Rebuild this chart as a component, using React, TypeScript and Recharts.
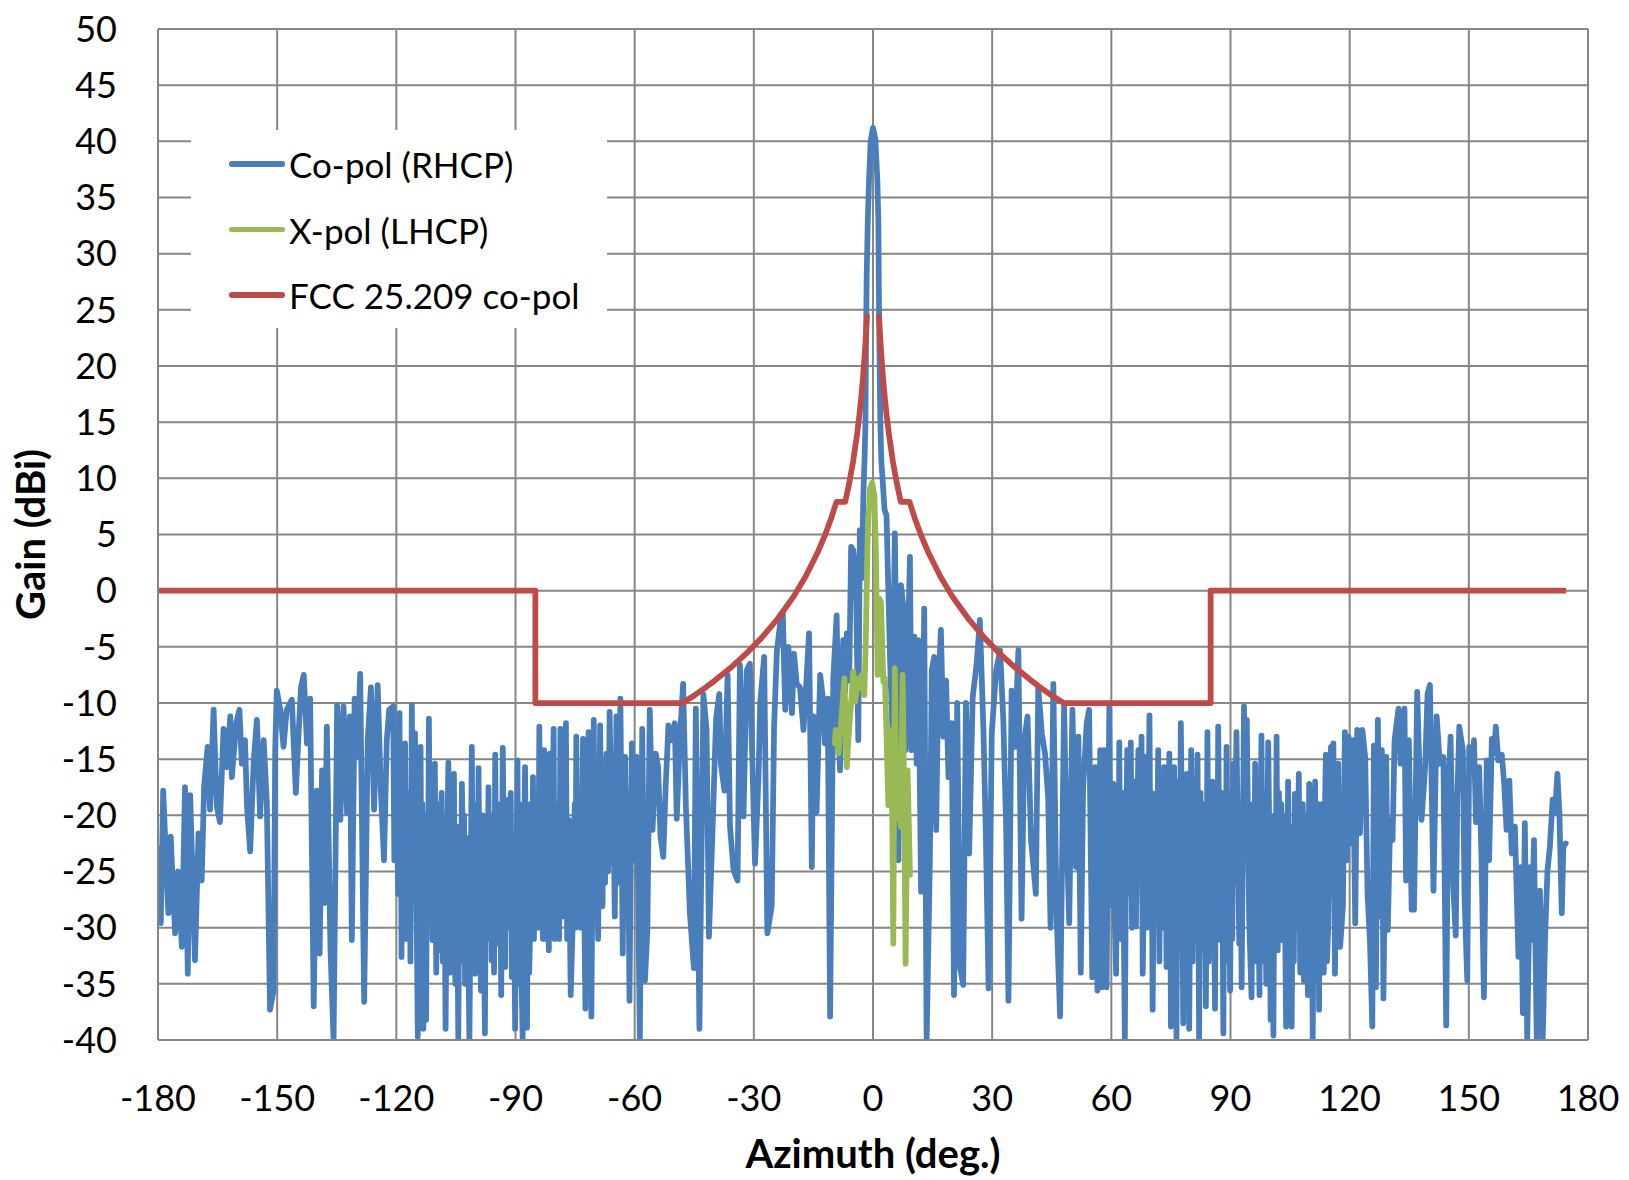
import React from "react";
import { CartesianGrid, Line, LineChart, XAxis, YAxis } from "recharts";

// azimuth ticks (deg) and gain ticks (dBi)
const xTicks = [-180, -150, -120, -90, -60, -30, 0, 30, 60, 90, 120, 150, 180];
const yTicks = [-40, -35, -30, -25, -20, -15, -10, -5, 0, 5, 10, 15, 20, 25, 30, 35, 40, 45, 50];

// [azimuth, gain] (peaks and nulls)
const coPol: [number, number][] = [
  [-180.0, -23], [-179.3, -29.6], [-178.7, -17.8], [-177.4, -28.7], [-176.8, -21.9], [-175.7, -30.5],
  [-174.9, -25], [-174.0, -31.7], [-173.2, -17.5], [-172.5, -34.1], [-171.9, -18.2], [-170.7, -32.9],
  [-169.8, -21.6], [-169.0, -25.8], [-168.4, -17.5], [-167.5, -13.9], [-166.9, -19.5], [-166.0, -10.6],
  [-165.2, -19.2], [-164.4, -20.6], [-163.5, -12.3], [-162.7, -15.7], [-161.8, -11.2], [-161.4, -16.6],
  [-160.3, -11.8], [-159.5, -10.6], [-158.9, -15.4], [-158.1, -13.3], [-157.6, -19.2], [-156.8, -23.2],
  [-155.9, -15.1], [-155.1, -11.5], [-154.3, -20.1], [-153.4, -13.3], [-152.6, -18.9], [-151.8, -37.3],
  [-150.9, -35.6], [-150.5, -14.2], [-150.1, -8.9], [-149.2, -10.6], [-148.4, -13.9], [-147.6, -10.6],
  [-146.3, -9.7], [-145.3, -18], [-144.6, -12.7], [-144.0, -8.6], [-143.3, -7.5], [-142.5, -13.6],
  [-141.7, -9.6], [-140.8, -37], [-140.0, -17.8], [-139.3, -32.3], [-138.7, -16], [-138.1, -27.8],
  [-137.5, -12.1], [-136.6, -31.7], [-135.8, -40], [-134.9, -10.2], [-134.1, -20.4], [-133.3, -10.3],
  [-132.4, -19.8], [-131.7, -11.2], [-131.2, -31.1], [-130.5, -9.6], [-129.8, -14.8], [-129.1, -7.4],
  [-128.1, -36.6], [-127.2, -13.3], [-126.4, -8.6], [-125.6, -19.5], [-124.7, -8.4], [-123.9, -17.8],
  [-123.1, -24], [-122.4, -13.3], [-121.8, -10.6],
  [-120.8, -10.3], [-119.9, -18], [-119.2, -10.9], [-118.7, -32.6], [-117.8, -13.6], [-117.0, -28.4],
  [-116.1, -10.2], [-115.7, -27], [-115.3, -12.7], [-114.6, -39.7], [-113.9, -13.9], [-113.2, -39],
  [-112.9, -22], [-112.5, -38.2],
  [-111.8, -11.4], [-110.9, -31.1], [-110.3, -15.4], [-109.2, -32], [-108.6, -18], [-107.6, -39],
  [-106.9, -15.3], [-106.1, -24.6], [-105.5, -16.3], [-104.4, -40], [-103.5, -17.2], [-102.7, -35],
  [-101.6, -40], [-101.0, -13.9], [-100.2, -34.1], [-99.3, -15.8], [-98.7, -35.6], [-98.2, -20],
  [-97.7, -39.4],
  [-96.8, -17.5], [-96.0, -32.9], [-95.1, -14.6], [-94.3, -31.4], [-93.2, -14], [-92.6, -33.5],
  [-91.8, -18.6], [-90.9, -34.4], [-90.5, -22], [-90.1, -39], [-89.5, -15.1], [-88.8, -28.1], [-88.2, -40],
  [-87.6, -15.7], [-87.1, -38.9], [-86.3, -29.9], [-85.6, -16.6], [-84.9, -27.8], [-84.0, -12.1],
  [-83.4, -24.1], [-82.8, -14.2], [-82.1, -29], [-81.4, -14.5], [-80.9, -26], [-80.4, -12.3], [-79.6, -28.1],
  [-78.7, -12.3], [-77.9, -29], [-77.3, -11.8], [-76.6, -20.4], [-76.1, -36], [-75.4, -27.2],
  [-74.7, -13], [-73.9, -24], [-73.0, -13.2], [-72.4, -37.2], [-71.6, -12.6], [-70.9, -37.9],
  [-70.3, -11.5], [-69.5, -23.4], [-68.7, -12], [-68.1, -28.1], [-67.1, -14.5], [-66.7, -25],
  [-66.3, -10.8], [-65.7, -24.3], [-64.6, -11.2], [-64.1, -26], [-63.6, -9.6], [-63.0, -32.3],
  [-62.4, -14.8], [-61.3, -36.5], [-60.7, -13.6],
  [-60.2, -24], [-59.5, -14.8], [-58.7, -40], [-58.1, -12.3], [-57.4, -34.7], [-56.8, -30.2],
  [-56.2, -10.6], [-55.5, -21.3], [-54.7, -14.5], [-54.1, -15.7], [-53.5, -21.9], [-52.8, -23.7],
  [-52.2, -17.5], [-51.5, -12], [-50.7, -13.3], [-49.9, -11.8], [-49.4, -20.3], [-48.6, -13],
  [-47.8, -8.3], [-47.1, -19.2], [-46.1, -28.7], [-45.1, -33.6], [-44.6, -10.5], [-43.7, -39],
  [-42.7, -9.2], [-41.9, -12.4], [-41.3, -30.8], [-40.4, -21.3], [-39.5, -11.4], [-38.7, -9.2],
  [-38.3, -15.4], [-37.4, -17.8], [-36.6, -7.5], [-36.0, -21], [-35.1, -24.9], [-34.1, -25.8],
  [-33.5, -6.6], [-32.6, -20.1], [-31.8, -7.1], [-31.0, -6.5], [-29.7, -24.3], [-28.8, -16.4],
  [-28.4, -10], [-27.4, -5.9], [-26.6, -30.5], [-25.5, -28.1], [-24.9, -12.1], [-24.2, -5.4],
  [-23.4, -3], [-22.7, -2], [-22.1, -10.6], [-21.3, -5], [-20.4, -10.9], [-19.9, -5.6],
  [-19.2, -8.3], [-18.4, -8.6], [-17.5, -12.4], [-16.7, -7.7], [-16.1, -3.8], [-15.4, -24.6],
  [-15.0, -11.2], [-14.6, -19.8], [-14.2, -19.7], [-13.3, -7.5], [-12.5, -9.9], [-12.1, -13.6],
  [-11.4, -9.6], [-10.8, -37.9], [-10.0, -7.8], [-9.15, -2.2], [-8.7, -12], [-8.3, -16],
  [-7.5, -4.4], [-7.0, -9], [-6.6, -3.8], [-6.0, -8], [-5.5, 3.9], [-4.95, 3.6],
  [-4.3, 1.1], [-3.7, -13.3], [-3.3, 5.4], [-2.85, 1.1], [-2.4, 8.8], [-2.1, 12],
  [-1.9, 15], [-1.75, 22], [-1.6, 28], [-1.3, 33], [-1.0, 36.5], [-0.6, 40],
  [0, 41.2], [0.6, 40.2], [1.1, 36.5], [1.35, 33], [1.45, 28], [1.6, 22],
  [1.85, 15], [2.1, 11.5], [2.4, 10], [2.9, 7.2], [3.4, 6.7], [4.3, -6.2],
  [4.86, -12.1], [5.5, 5.1], [5.95, -8.1], [6.4, -24], [7.05, 0.5], [7.6, -1.3],
  [8.2, -14.2], [9.3, 3], [9.7, -14.2], [10.4, -4.1], [11.0, -15.4], [11.4, -4.4],
  [12.1, -26.8], [12.9, -1.6],
  [13.5, -40], [14.3, -24.3], [14.8, -7.1], [15.4, -5.9], [15.9, -21.3], [16.4, -8.9],
  [17.1, -3.5], [17.7, -13], [18.4, -8], [19.0, -16.6], [19.8, -11.8], [20.4, -36],
  [21.2, -10], [21.9, -33.5], [22.7, -35.1], [23.4, -10], [24.2, -23.4], [25.1, -9.5],
  [26.1, -6.5], [26.9, -2.6], [27.8, -12.4], [28.4, -21.6], [29.1, -35.4], [29.9, -12.7],
  [31.0, -7.1], [32.0, -5.3], [32.8, -11.5], [33.5, -20.7], [34.1, -36.5], [34.9, -8.9],
  [35.7, -13.9], [36.6, -5.3], [37.4, -29.2], [38.1, -13.3], [38.9, -11.2], [39.8, -22.2],
  [41.0, -27], [41.6, -8.6], [42.5, -12.7], [43.3, -14.5], [44.1, -18.4], [44.7, -30],
  [45.4, -8.3], [46.2, -28.7], [47.1, -37.9], [48.1, -10.3], [48.7, -21], [49.4, -29.6],
  [50.2, -10.6], [51.1, -24.6], [51.7, -13], [52.3, -34], [52.9, -17.5], [53.8, -11.8],
  [54.4, -10.6], [55.2, -34.4], [55.9, -15.7], [56.5, -35.6],
  [57.2, -14.2], [57.6, -35.3], [58.2, -14.2], [58.8, -35.3], [59.5, -10.3], [60.5, -17.2],
  [61.2, -34.1], [62.0, -13.5], [62.6, -26.1], [63.4, -40], [64.0, -14.2], [64.4, -27], [64.9, -13.5],
  [65.5, -22.8], [66.2, -29.9], [66.8, -14.2], [67.3, -25], [67.6, -13], [67.9, -34.1], [68.7, -14.8],
  [69.2, -24], [69.6, -11.1], [70.4, -37.3], [71.0, -18.1], [71.4, -27], [71.8, -14.2], [72.7, -28.7], [73.3, -15.7],
  [73.9, -33.5], [74.6, -14.5], [75.0, -38.8], [75.8, -15.7], [76.4, -40], [77.5, -11.8],
  [78.1, -38.5], [79.0, -16.3], [79.6, -39], [80.1, -14.2], [81.1, -31.1], [81.7, -14.6],
  [82.1, -40], [83.2, -25.2], [83.8, -37], [84.2, -12.6], [85.1, -29.9], [86.1, -37.2],
  [86.9, -12.1], [87.5, -31.1], [88.2, -39.4], [89.0, -13.9], [89.9, -35.6], [90.7, -15.4],
  [91.1, -26], [91.5, -12.6], [92.2, -31.4], [92.5, -20], [92.8, -35.3], [93.4, -10.3], [93.8, -24],
  [94.1, -11.5], [94.7, -29.3],
  [95.3, -36.2], [96.2, -15.4], [97.0, -27.5], [97.8, -12.9], [98.7, -23.4], [99.5, -13.5],
  [100.1, -38.2], [100.5, -22], [100.8, -39.6], [101.6, -13], [102.5, -25.8], [103.1, -31.1], [104.0, -38.8],
  [104.5, -17], [105.4, -38.8], [106.2, -18.1], [106.7, -30], [107.2, -16.3], [107.9, -29.3], [108.5, -34.7],
  [109.2, -31.1], [109.8, -17.2], [110.7, -40], [111.3, -17], [112.3, -37.3], [113.2, -24],
  [114.0, -14.6], [114.6, -29.9], [115.3, -13.9], [115.6, -27], [115.9, -13.6], [116.3, -34.1], [117.1, -15.4],
  [117.6, -31.7], [118.3, -28.1], [118.8, -12.6], [119.3, -24], [119.7, -13], [120.3, -22.5], [120.8, -13.3],
  [121.4, -29.6], [121.9, -12.4], [122.6, -21.6], [123.2, -12.4], [123.9, -14.8], [124.5, -27],
  [125.1, -31.1], [125.7, -38.8], [126.1, -13.8], [126.6, -35.3], [127.1, -11.5], [127.6, -29],
  [128.1, -14.2], [128.5, -36.3], [129.2, -14.8], [129.6, -30.2], [130.2, -20.4], [130.8, -22.2],
  [131.3, -13.3], [132.3, -10.5], [132.8, -15.4], [133.8, -10.5], [134.2, -25.8], [134.9, -13.3],
  [135.6, -28.4], [136.2, -28.4], [137.0, -9], [137.7, -17.5], [138.1, -20.4], [139.0, -15.7],
  [139.6, -9.2], [140.2, -8.4], [141.1, -26.7], [141.9, -11.2], [142.7, -15.4], [143.6, -14.8],
  [144.3, -38.7], [144.8, -18.1], [145.4, -13], [146.1, -26.4], [146.7, -30.7], [147.1, -18.4],
  [147.6, -12.1], [148.5, -14.2], [148.9, -27], [149.6, -34.7], [150.1, -13.9], [150.8, -16],
  [151.3, -13.3], [151.8, -20.6], [152.6, -15.7], [153.2, -24], [153.8, -36.2], [154.5, -15.1],
  [155.1, -24], [155.8, -13.2], [156.3, -14.5], [156.8, -12.1], [157.4, -15.1], [158.3, -14.6],
  [158.9, -17.2], [159.5, -21.3], [160.2, -16.9], [160.8, -23.4], [161.6, -21], [162.5, -32.6],
  [163.1, -24.6], [163.6, -37.6], [164.1, -20.7], [164.7, -40], [165.4, -24.6], [165.8, -31.1],
  [166.4, -22.2], [167.1, -40], [167.9, -26.7], [168.6, -40], [169.2, -30.8], [169.8, -24.9],
  [170.4, -22.8], [171.1, -18.6], [171.7, -19.8], [172.3, -16.3], [172.8, -19.8], [173.4, -28.7],
  [173.8, -22.8], [174.4, -22.5],
];

// finer ripple read inside the dense bands on the west side (-121..-60 deg)
const coPolRippleWest: [number, number][] = [
  [-120.5, -24], [-120.2, -14], [-119.55, -27], [-119.0, -26], [-118.85, -19], [-118.4, -19],
  [-118.1, -30], [-117.55, -31], [-117.3, -18], [-116.75, -19], [-116.45, -33], [-114.35, -21],
  [-114.15, -31], [-113.65, -30], [-113.45, -19], [-112.25, -20], [-112.05, -29], [-111.5, -27],
  [-111.2, -17], [-110.6, -22], [-109.95, -34], [-109.6, -19], [-108.9, -23], [-108.3, -33],
  [-107.95, -21], [-107.25, -24], [-106.5, -34], [-105.15, -35], [-104.8, -21], [-104.1, -23],
  [-103.8, -33], [-103.2, -24], [-102.95, -20], [-102.3, -22], [-101.95, -30], [-100.75, -26],
  [-100.5, -19], [-99.9, -22], [-99.6, -33], [-99.0, -29], [-97.4, -21], [-97.1, -31],
  [-96.55, -30], [-96.25, -20], [-95.7, -21], [-95.4, -34], [-94.85, -28], [-94.55, -19],
  [-93.95, -19], [-93.6, -36], [-92.9, -24], [-92.35, -20], [-92.05, -30], [-91.5, -29],
  [-91.2, -18], [-89.25, -35], [-89.0, -19], [-87.9, -26], [-87.35, -24], [-86.8, -19],
  [-86.55, -34], [-86.0, -19], [-85.8, -27], [-85.35, -31], [-85.1, -19], [-84.6, -18],
  [-84.3, -30], [-83.7, -29], [-83.1, -31], [-82.55, -31], [-82.3, -20], [-81.85, -19],
  [-81.6, -32], [-80.15, -31], [-79.9, -19], [-79.3, -19], [-79.0, -31], [-78.45, -26],
  [-78.15, -19], [-77.6, -21], [-77.0, -31], [-75.1, -19], [-74.9, -30], [-74.45, -29],
  [-74.15, -18], [-73.6, -30], [-73.3, -21], [-72.7, -28], [-72.1, -20], [-71.85, -30],
  [-71.35, -27], [-71.1, -19], [-70.6, -24], [-70.0, -29], [-69.75, -17], [-69.2, -31],
  [-68.95, -21], [-68.4, -21], [-67.8, -17], [-67.45, -26], [-65.4, -18], [-65.0, -29],
  [-62.7, -21], [-62.05, -27], [-61.7, -18], [-61.0, -24],
];

// finer ripple read inside the dense bands on the east side (59..117 deg)
const coPolRippleEast: [number, number][] = [
  [59.85, -28], [60.2, -19], [60.85, -29], [61.5, -20], [61.75, -31], [62.3, -31],
  [62.9, -18], [63.15, -30], [63.7, -23], [65.2, -30], [65.8, -17], [66.0, -25],
  [66.5, -21], [68.95, -30], [69.85, -25], [70.1, -18], [70.7, -25], [72.1, -33],
  [72.4, -19], [73.0, -30], [73.6, -21], [74.2, -20], [74.4, -29], [74.8, -24],
  [75.3, -20], [75.55, -30], [76.1, -26], [76.75, -17], [77.1, -32], [77.8, -22],
  [78.4, -18], [78.7, -33], [79.3, -22], [80.45, -33], [80.8, -19], [81.4, -22],
  [82.45, -18], [82.85, -32], [83.5, -19], [84.5, -33], [84.8, -18], [85.45, -17],
  [85.8, -26], [86.4, -20], [86.65, -31], [87.2, -24], [87.8, -18], [88.5, -20],
  [88.75, -33], [89.3, -30], [89.6, -18], [90.2, -21], [90.45, -31], [95.6, -19],
  [95.9, -32], [96.5, -33], [96.75, -19], [97.3, -36], [97.55, -20], [98.1, -33],
  [98.4, -18], [99.0, -35], [99.25, -21], [99.8, -23], [101.1, -20], [101.35, -30],
  [101.9, -32], [102.2, -18], [102.8, -19], [103.4, -20], [103.7, -28], [104.8, -28],
  [105.1, -21], [105.7, -22], [105.95, -33], [107.55, -34], [108.2, -19], [108.85, -20],
  [109.5, -36], [110.1, -28], [110.4, -19], [111.0, -23], [111.65, -34], [112.0, -20],
  [112.6, -19], [112.9, -33], [113.5, -34], [113.75, -20], [114.3, -33], [114.95, -20],
  [116.7, -22],
];

const xPol: [number, number][] = [
  [-9.6, -13.6], [-9.4, -12.4], [-8.7, -14.5], [-8.1, -12.1], [-7.2, -7.8], [-6.6, -15.7],
  [-6.2, -13.3], [-5.5, -9.9], [-4.95, -7.2], [-4.5, -9.9], [-3.86, -7.8], [-3.27, -8.7],
  [-2.85, -7.5], [-2.2, -9.3], [-1.85, -5], [-1.35, 4.8], [-0.76, 9.1], [-0.2, 9.6],
  [0.33, 8.5], [0.75, 3.3], [1.17, -7.5], [1.59, -0.7], [2.0, -1], [2.6, -8.1],
  [3.0, -7.8], [3.4, -12.7], [3.86, -19.1], [4.3, -12.4], [4.86, -20.3], [5.1, -31.4],
  [5.5, -6.9], [5.95, -20.3], [6.5, -17.3], [7.0, -21], [7.46, -7.5], [7.9, -19.7],
  [8.2, -33.2], [8.7, -16], [9.06, -21.3], [9.3, -25.3],
];

// FCC 25.209 co-pol mask; null breaks the line across the main beam
const fccMask: [number, number | null][] = [
  [-180, 0], [-85, 0], [-85, -10], [-48, -10], [-45, -9.33], [-42, -8.58], [-40, -8.05],
  [-36, -6.91], [-32, -5.63], [-28, -4.18], [-24, -2.5], [-20, -0.53], [-17, 1.24], [-14, 3.35],
  [-12, 5.02], [-10.5, 6.47], [-9.2, 7.9], [-7, 7.9], [-6, 9.55], [-5, 11.53], [-4, 13.95],
  [-3.5, 15.4], [-3, 17.07], [-2.5, 19.05], [-2, 21.47], [-1.75, 22.92], [-1.5, 24.6],
  [0, null],
  [1.5, 24.6], [1.75, 22.92], [2, 21.47], [2.5, 19.05], [3, 17.07], [3.5, 15.4], [4, 13.95],
  [5, 11.53], [6, 9.55], [7, 7.9], [9.2, 7.9], [10.5, 6.47], [12, 5.02], [14, 3.35], [17, 1.24],
  [20, -0.53], [24, -2.5], [28, -4.18], [32, -5.63], [36, -6.91], [40, -8.05], [42, -8.58],
  [45, -9.33], [48, -10], [85, -10], [85, 0], [174.5, 0],
];

const legendItems = [
  { name: "Co-pol (RHCP)", color: "#4A7EBB" },
  { name: "X-pol (LHCP)", color: "#98B954" },
  { name: "FCC 25.209 co-pol", color: "#BE4B48" },
];

const toRows = (pts: [number, number | null][]) => pts.map(([az, gain]) => ({ az, gain }));

const coPolRows = toRows(
  [...coPol, ...coPolRippleWest, ...coPolRippleEast].sort((a, b) => a[0] - b[0])
);

const gridColor = "#868686";
const font = "Lato, 'Open Sans', sans-serif";
const seriesWidth = 5.75;

export default function App() {
  return (
    <div style={{ position: "absolute", left: 0, top: 0, width: 1629, height: 1180, background: "#fff" }}>
      <LineChart width={1629} height={1180} margin={{ top: 29, right: 41, bottom: 0, left: 0 }}>
        <CartesianGrid stroke={gridColor} strokeWidth={2} />
        <XAxis
          type="number"
          dataKey="az"
          domain={[-180, 180]}
          ticks={xTicks}
          allowDataOverflow
          height={140}
          tickLine={false}
          tickSize={0}
          tickMargin={45}
          axisLine={{ stroke: gridColor, strokeWidth: 2 }}
          tick={{ fontSize: 36, fill: "#000", fontFamily: font }}
          label={{
            value: "Azimuth (deg.)",
            position: "insideBottom",
            offset: 12,
            fontSize: 40,
            fontWeight: 700,
            fontFamily: font,
            fill: "#000",
          }}
        />
        <YAxis
          type="number"
          domain={[-40, 50]}
          ticks={yTicks}
          allowDataOverflow
          width={158}
          tickLine={false}
          tickSize={0}
          tickMargin={41}
          axisLine={{ stroke: gridColor, strokeWidth: 2 }}
          tick={{ fontSize: 36, fill: "#000", fontFamily: font }}
          label={{
            value: "Gain (dBi)",
            angle: -90,
            position: "insideLeft",
            offset: 31,
            fontSize: 40,
            fontWeight: 700,
            fontFamily: font,
            fill: "#000",
            style: { textAnchor: "middle" },
          }}
        />
        <Line
          data={coPolRows}
          dataKey="gain"
          type="linear"
          stroke="#4A7EBB"
          strokeWidth={seriesWidth}
          strokeLinejoin="round"
          strokeLinecap="round"
          dot={false}
          isAnimationActive={false}
        />
        <Line
          data={toRows(xPol)}
          dataKey="gain"
          type="linear"
          stroke="#98B954"
          strokeWidth={seriesWidth}
          strokeLinejoin="round"
          strokeLinecap="round"
          dot={false}
          isAnimationActive={false}
        />
        <Line
          data={toRows(fccMask)}
          dataKey="gain"
          type="linear"
          stroke="#BE4B48"
          strokeWidth={seriesWidth}
          strokeLinejoin="round"
          dot={false}
          connectNulls={false}
          isAnimationActive={false}
        />
      </LineChart>
      <div
        style={{
          position: "absolute",
          left: 191,
          top: 130,
          width: 416,
          height: 198,
          background: "#fff",
          fontFamily: font,
          fontSize: 35,
          color: "#000",
        }}
      >
        {legendItems.map((item, i) => (
          <div key={item.name} style={{ position: "absolute", left: 0, top: 34 + i * 65.5, height: 0 }}>
            <div
              style={{
                position: "absolute",
                left: 38,
                top: -2.75,
                width: 56,
                height: 5.5,
                borderRadius: 2.75,
                background: item.color,
              }}
            />
            <div style={{ position: "absolute", left: 98, top: -22, lineHeight: "44px", whiteSpace: "nowrap" }}>
              {item.name}
            </div>
          </div>
        ))}
      </div>
    </div>
  );
}
